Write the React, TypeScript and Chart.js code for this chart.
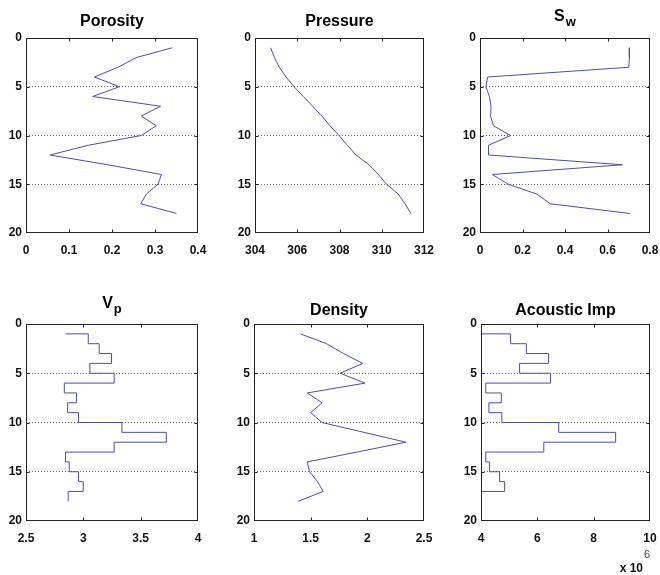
import React, { useEffect, useRef } from "react";
import { Chart, registerables } from "chart.js";

Chart.register(...registerables);

// ---------- data ----------
const depth = [1, 2, 3, 4, 5, 6, 7, 8, 9, 10, 11, 12, 13, 14, 15, 16, 17, 18];
const porosity = [0.34, 0.257, 0.214, 0.159, 0.217, 0.155, 0.313, 0.268, 0.303, 0.268, 0.145, 0.056, 0.19, 0.315, 0.307, 0.28, 0.267, 0.35];
const pressure = [304.74, 304.92, 305.15, 305.47, 305.85, 306.29, 306.73, 307.16, 307.55, 307.98, 308.37, 308.78, 309.4, 309.84, 310.23, 310.78, 311.1, 311.38];
const sw = [0.703, 0.703, 0.7, 0.036, 0.028, 0.044, 0.052, 0.05, 0.063, 0.144, 0.04, 0.04, 0.67, 0.058, 0.133, 0.267, 0.33, 0.706];
const vp = [2.845, 3.043, 3.138, 3.246, 3.057, 3.269, 2.834, 2.941, 2.863, 2.958, 3.336, 3.724, 3.269, 2.845, 2.877, 2.958, 2.999, 2.868];
const density = [1.41, 1.64, 1.79, 1.96, 1.76, 1.98, 1.47, 1.6, 1.5, 1.6, 1.97, 2.34, 1.91, 1.47, 1.49, 1.56, 1.61, 1.39];
const acousticImp = [4.0e6, 5.05e6, 5.61e6, 6.4e6, 5.37e6, 6.47e6, 4.17e6, 4.72e6, 4.28e6, 4.74e6, 6.76e6, 8.78e6, 6.23e6, 4.17e6, 4.3e6, 4.66e6, 4.84e6, 4.0e6];

const depthTicks = [0, 5, 10, 15, 20];

const LINE_COLOR = "#4d4daa";
const FONT = "'Liberation Sans', Arial, Helvetica, sans-serif";

type PanelCfg = {
  title: string;
  sub?: string;
  values: number[];
  xMin: number;
  xMax: number;
  xStep: number;
  stepped: boolean;
  scaleDiv?: number;
  exponent?: string;
  box: [number, number, number, number]; // left, top, right, bottom of plot area
  titleBase: number; // absolute baseline y of the title
};

const panels: PanelCfg[] = [
  { title: "Porosity", values: porosity, xMin: 0, xMax: 0.4, xStep: 0.1, stepped: false, box: [26, 38, 198, 233], titleBase: 26 },
  { title: "Pressure", values: pressure, xMin: 304, xMax: 312, xStep: 2, stepped: false, box: [255, 38, 424, 233], titleBase: 26 },
  { title: "S", sub: "w", values: sw, xMin: 0, xMax: 0.8, xStep: 0.2, stepped: false, box: [480, 38, 650, 233], titleBase: 21 },
  { title: "V", sub: "p", values: vp, xMin: 2.5, xMax: 4, xStep: 0.5, stepped: true, box: [26, 324, 198, 521], titleBase: 308 },
  { title: "Density", values: density, xMin: 1, xMax: 2.5, xStep: 0.5, stepped: false, box: [254, 324, 424, 521], titleBase: 315 },
  { title: "Acoustic Imp", values: acousticImp, xMin: 4e6, xMax: 10e6, xStep: 2e6, stepped: true, scaleDiv: 1e6, exponent: "6", box: [481, 324, 650, 521], titleBase: 315 },
];

const YW = 30; // y-axis width
const TOP = 38; // space above the plot for the title
const XH = 30; // x-axis height

const fmt = (v: number) => String(Number(v.toFixed(4)));

const framePlugin = {
  id: "panelFrame",
  afterDraw(chart: any, _args: any, opts: any) {
    const { ctx, chartArea: a, scales } = chart;
    ctx.save();
    const l = Math.round(a.left) + 0.5;
    const t = Math.round(a.top) + 0.5;
    const r = Math.round(a.right) - 0.5;
    const b = Math.round(a.bottom) - 0.5;
    ctx.strokeStyle = "#222";
    ctx.lineWidth = 1;
    ctx.strokeRect(l, t, r - l, b - t);
    // inward tick marks on all four sides
    const TL = 3;
    ctx.beginPath();
    scales.x.ticks.forEach((tk: any) => {
      const px = Math.round(scales.x.getPixelForValue(tk.value)) + 0.5;
      if (px <= l + 1 || px >= r - 1) return;
      ctx.moveTo(px, t);
      ctx.lineTo(px, t + TL);
      ctx.moveTo(px, b);
      ctx.lineTo(px, b - TL);
    });
    scales.y.ticks.forEach((tk: any) => {
      const py = Math.round(scales.y.getPixelForValue(tk.value)) + 0.5;
      if (py <= t + 1 || py >= b - 1) return;
      ctx.moveTo(l, py);
      ctx.lineTo(l + TL, py);
      ctx.moveTo(r, py);
      ctx.lineTo(r - TL, py);
    });
    ctx.stroke();

    // title (with optional subscript)
    const cx = (a.left + a.right) / 2;
    const mainFont = `bold 16px ${FONT}`;
    const subFont = `bold 13px ${FONT}`;
    ctx.fillStyle = "#000";
    ctx.textBaseline = "alphabetic";
    ctx.font = mainFont;
    const wMain = ctx.measureText(opts.text).width;
    let wSub = 0;
    if (opts.sub) {
      ctx.font = subFont;
      wSub = ctx.measureText(opts.sub).width + 1;
    }
    const x0 = cx - (wMain + wSub) / 2;
    ctx.font = mainFont;
    ctx.textAlign = "left";
    ctx.fillText(opts.text, x0, opts.baseline);
    if (opts.sub) {
      ctx.font = subFont;
      ctx.fillText(opts.sub, x0 + wMain + 1, opts.baseline + 5);
    }

    // exponent label (x 10^n)
    if (opts.exponent) {
      ctx.font = `bold 12px ${FONT}`;
      ctx.textAlign = "right";
      ctx.fillStyle = "#111";
      const ex = opts.expX;
      ctx.fillText("x 10", ex, opts.expBase);
      ctx.font = `11px ${FONT}`;
      ctx.textAlign = "left";
      ctx.fillStyle = "#444";
      ctx.fillText(opts.exponent, ex + 1, opts.expBase - 14);
    }
    ctx.restore();
  },
};

function Panel({ cfg }: { cfg: PanelCfg }) {
  const ref = useRef<HTMLCanvasElement | null>(null);
  const [L, T, R, B] = cfg.box;
  const PR = Math.min(14, 660 - R);
  const extra = cfg.exponent ? 575 - (B + XH) : 0;
  const left = L - YW;
  const top = T - TOP;
  const width = R - L + YW + PR;
  const height = B - T + TOP + XH + extra;

  useEffect(() => {
    const canvas = ref.current;
    if (!canvas) return;
    const chart = new Chart(canvas, {
      type: "scatter",
      data: {
        datasets: [
          {
            data: depth.map((d, i) => ({ x: cfg.values[i], y: d })),
            showLine: true,
            borderColor: LINE_COLOR,
            borderWidth: 1,
            pointRadius: 0,
            pointHoverRadius: 0,
            fill: false,
            tension: 0,
            stepped: cfg.stepped ? "before" : false,
          } as any,
        ],
      },
      options: {
        responsive: false,
        animation: false,
        devicePixelRatio: 1,
        layout: {
          autoPadding: false,
          padding: { left: 0, top: TOP, right: PR, bottom: extra },
        } as any,
        plugins: {
          legend: { display: false },
          title: { display: false },
          tooltip: { enabled: false },
          panelFrame: {
            text: cfg.title,
            sub: cfg.sub,
            baseline: cfg.titleBase - top,
            exponent: cfg.exponent,
            expX: 643 - left,
            expBase: 572 - top,
          },
        } as any,
        scales: {
          x: {
            type: "linear",
            position: "bottom",
            min: cfg.xMin,
            max: cfg.xMax,
            grid: {
              display: true,
              drawOnChartArea: false,
              drawTicks: true,
              tickLength: 9,
              tickColor: "rgba(0,0,0,0)",
              color: "rgba(0,0,0,0)",
            },
            border: { display: false },
            ticks: {
              stepSize: cfg.xStep,
              padding: 1,
              maxRotation: 0,
              autoSkip: false,
              color: "#111",
              font: { family: FONT, size: 12, weight: "bold" },
              callback: (v: any) => fmt(Number(v) / (cfg.scaleDiv || 1)),
            },
            afterFit: (s: any) => {
              s.height = XH;
            },
          },
          y: {
            type: "linear",
            reverse: true,
            min: depthTicks[0],
            max: depthTicks[depthTicks.length - 1],
            grid: {
              drawTicks: false,
              lineWidth: 1,
              color: (c: any) =>
                c.tick && (c.tick.value === depthTicks[0] || c.tick.value === depthTicks[depthTicks.length - 1])
                  ? "rgba(0,0,0,0)"
                  : "#666",
            },
            border: { display: false, dash: [1, 2] },
            afterBuildTicks: (s: any) => {
              s.ticks = depthTicks.map((v) => ({ value: v }));
            },
            ticks: {
              padding: 4,
              autoSkip: false,
              color: "#111",
              font: { family: FONT, size: 12, weight: "bold" },
              callback: (v: any) => fmt(Number(v)),
            },
            afterFit: (s: any) => {
              s.width = YW;
            },
          },
        },
      } as any,
      plugins: [framePlugin as any],
    });
    return () => chart.destroy();
  }, [cfg]);

  return (
    <canvas
      ref={ref}
      width={width}
      height={height}
      style={{ position: "absolute", left, top, width, height }}
    />
  );
}

export default function App() {
  return (
    <div
      style={{
        position: "absolute",
        left: 0,
        top: 0,
        width: 660,
        height: 575,
        overflow: "hidden",
        background: "#fff",
      }}
    >
      {panels.map((p, i) => (
        <Panel key={i} cfg={p} />
      ))}
    </div>
  );
}
